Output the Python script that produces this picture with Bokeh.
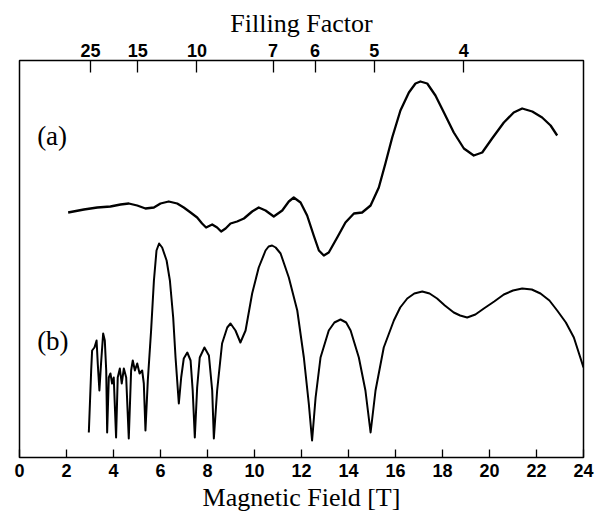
from bokeh.plotting import figure
from bokeh.models import FixedTicker, LinearAxis, Range1d, Label
from bokeh.embed import file_html
from bokeh.resources import INLINE

# Magnetic field ticks (T)
field_ticks = [0, 2, 4, 6, 8, 10, 12, 14, 16, 18, 20, 22, 24]
# Filling factor ticks: label and field position (T)
filling_labels = ["25", "15", "10", "7", "6", "5", "4"]
filling_fields = [3.02, 5.03, 7.55, 10.79, 12.58, 15.1, 18.9]

# Trace (a)
a_B = [2.07, 2.74, 3.31, 3.87, 4.3, 4.65, 5.01, 5.36, 5.72, 6.0, 6.35, 6.71, 6.99, 7.28, 7.56,
       7.77, 7.94, 8.2, 8.41, 8.58, 8.77, 8.98, 9.26, 9.55, 9.9, 10.18, 10.47, 10.82, 11.18,
       11.46, 11.67, 11.96, 12.24, 12.52, 12.74, 12.95, 13.16, 13.52, 13.87, 14.23, 14.58,
       14.94, 15.29, 15.57, 15.86, 16.21, 16.57, 16.85, 17.06, 17.35, 17.7, 18.06, 18.48,
       18.91, 19.33, 19.69, 20.11, 20.61, 21.03, 21.39, 21.82, 22.24, 22.6, 22.88]
a_y = [24.5, 24.8, 25.0, 25.1, 25.3, 25.4, 25.2, 24.9, 25.0, 25.4, 25.6, 25.4, 25.0, 24.5, 24.0,
       23.4, 23.0, 23.3, 23.0, 22.6, 22.9, 23.4, 23.6, 23.9, 24.6, 25.0, 24.7, 24.1, 24.7,
       25.6, 26.0, 25.5, 24.2, 22.2, 20.7, 20.2, 20.5, 22.0, 23.5, 24.4, 24.5,
       25.2, 27.0, 29.4, 32.0, 34.7, 36.5, 37.4, 37.6, 37.4, 36.2, 34.5, 32.5,
       30.9, 30.2, 30.5, 31.9, 33.5, 34.5, 34.9, 34.6, 34.0, 33.2, 32.2]

# Trace (b)
b_B = [2.95, 3.05, 3.09, 3.19, 3.28, 3.33, 3.4, 3.47, 3.56, 3.63, 3.69, 3.73, 3.8, 3.87, 3.94,
       4.01, 4.11, 4.18, 4.27, 4.35, 4.44, 4.54, 4.65, 4.75, 4.82, 4.91, 5.01, 5.11, 5.22,
       5.29, 5.36, 5.46, 5.6, 5.72, 5.83, 5.94, 6.07, 6.26, 6.4, 6.54, 6.64, 6.78, 6.88,
       6.99, 7.14, 7.28, 7.37, 7.46, 7.56, 7.67, 7.87, 8.06, 8.2, 8.27, 8.41, 8.62, 8.84,
       8.98, 9.19, 9.4, 9.62, 9.9, 10.18, 10.47, 10.6, 10.75, 10.9, 11.11, 11.46, 11.82,
       12.1, 12.31, 12.45, 12.6, 12.81, 13.16, 13.4, 13.66, 13.9, 14.09, 14.44, 14.72, 14.94,
       15.15, 15.5, 15.93, 16.2, 16.5, 16.8, 17.14, 17.45, 17.77, 18.1, 18.48, 18.75, 19.05,
       19.4, 19.76, 20.2, 20.61, 21.0, 21.39, 21.8, 22.17, 22.55, 22.88, 23.25, 23.59, 24.0]
b_y = [2.5, 8.7, 10.7, 11.0, 11.7, 9.4, 6.7, 9.4, 12.4, 11.7, 8.7, 2.5, 8.0, 8.4, 7.4,
       8.0, 2.0, 8.0, 8.9, 7.4, 8.9, 8.0, 1.9, 8.7, 9.7, 8.7, 9.4, 8.4, 8.7,
       7.4, 2.7, 7.7, 12.7, 17.7, 20.7, 21.4, 21.0, 19.7, 17.7, 14.0, 10.0, 5.4, 8.0,
       9.9, 10.5, 9.7, 6.7, 2.0, 7.0, 10.0, 11.0, 10.2, 6.7, 1.9, 6.7, 11.4, 13.0,
       13.4, 12.7, 11.5, 12.7, 16.4, 19.0, 20.7, 21.1, 21.2, 21.0, 20.4, 18.0, 14.7,
       10.0, 5.4, 1.7, 6.0, 10.0, 12.7, 13.5, 13.8, 13.5, 12.7, 10.0, 6.7, 2.5,
       6.7, 11.0, 13.7, 15.0, 15.9, 16.4, 16.6, 16.4, 15.9, 15.2, 14.5, 14.2, 14.0,
       14.3, 14.9, 15.6, 16.3, 16.7, 16.9, 16.8, 16.4, 15.7, 14.7, 13.5, 12.0, 9.0]

p = figure(width=595, height=529, output_backend="svg", toolbar_location=None,
           x_range=Range1d(0, 24), y_range=Range1d(0, 39.7),
           x_axis_location=None, y_axis_location=None,
           min_border_left=19, min_border_right=12, min_border_top=60, min_border_bottom=72)
p.grid.visible = False
p.outline_line_color = "black"
p.outline_line_width = 1.5
p.background_fill_color = "white"
p.border_fill_color = "white"

def style_axis(ax, tick_len):
    ax.major_tick_in = tick_len
    ax.major_tick_out = 0
    ax.minor_tick_line_color = None
    ax.axis_line_color = None
    ax.major_tick_line_width = 1.3
    ax.major_tick_line_color = "black"
    ax.major_label_text_font = "Liberation Sans"
    ax.major_label_text_font_style = "bold"
    ax.major_label_text_font_size = "18px"
    ax.major_label_text_color = "black"
    ax.axis_label_text_font = "Liberation Serif"
    ax.axis_label_text_font_style = "normal"
    ax.axis_label_text_font_size = "26px"
    ax.axis_label_text_color = "black"
    ax.axis_label_standoff = 3

bottom = LinearAxis(ticker=FixedTicker(ticks=field_ticks), axis_label="Magnetic Field [T]")
style_axis(bottom, 8)
bottom.major_label_standoff = 6
p.add_layout(bottom, "below")

top = LinearAxis(ticker=FixedTicker(ticks=filling_fields), axis_label="Filling Factor")
top.major_label_overrides = {f: l for f, l in zip(filling_fields, filling_labels)}
style_axis(top, 12)
top.major_label_standoff = 4
p.add_layout(top, "above")

p.line(a_B, a_y, line_color="black", line_width=2.3, line_join="round")
p.line(b_B, b_y, line_color="black", line_width=2.0, line_join="round")

for txt, yy in [("(a)", 32.2), ("(b)", 11.7)]:
    p.add_layout(Label(x=0.75, y=yy, text=txt, text_font="Liberation Serif",
                       text_font_size="27px", text_baseline="middle", text_color="black"))

open("out.html", "w").write(file_html(p, INLINE))
